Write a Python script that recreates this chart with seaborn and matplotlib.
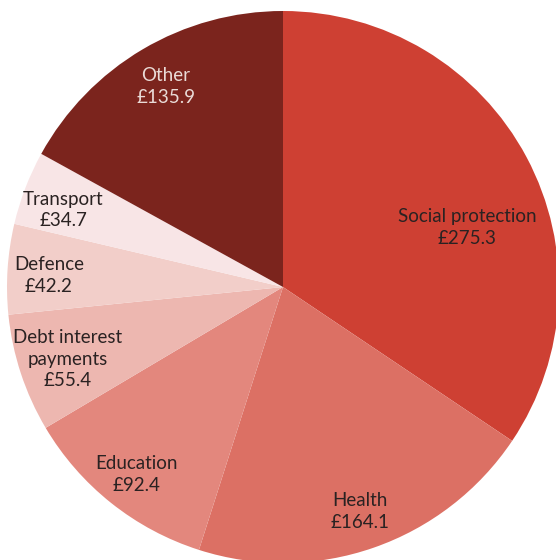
import matplotlib
matplotlib.use("Agg")
import matplotlib.pyplot as plt
import seaborn as sns

# Public spending by function (£ billion)
categories = ["Social protection", "Health", "Education", "Debt interest\npayments",
              "Defence", "Transport", "Other"]
values = [275.3, 164.1, 92.4, 55.4, 42.2, 34.7, 135.9]
colors = ["#CE4033", "#DC7064", "#E3877D", "#EDB7B0", "#F2CEC9", "#F8E5E6", "#7B241D"]
text_colors = ["#2a2222"] * 6 + ["#EADBD7"]

# Label anchor points in pie units (radius = 1)
label_xy = [(0.667, 0.214), (0.279, -0.815), (-0.529, -0.678), (-0.779, -0.261),
            (-0.848, 0.043), (-0.797, 0.279), (-0.424, 0.725)]

sns.set_theme(style="white")
plt.rcParams["font.family"] = ["Lato", "DejaVu Sans"]

fig = plt.figure(figsize=(5.56, 5.60), dpi=100)
ax = fig.add_axes([0, 0, 1, 1])
ax.pie(values, colors=sns.color_palette(colors), startangle=90, counterclock=False,
       radius=1.0, wedgeprops=dict(linewidth=0))

for name, val, (x, y), tc in zip(categories, values, label_xy, text_colors):
    ax.text(x, y, f"{name}\n£{val:.1f}", ha="center", va="center",
            fontsize=13.5, color=tc, linespacing=1.35)

ax.set_xlim(-283 / 276, (556 - 283) / 276)
ax.set_ylim((287 - 560) / 276, 287 / 276)
ax.set_aspect("equal")
ax.axis("off")

fig.savefig("out.png", dpi=100, facecolor="white")
